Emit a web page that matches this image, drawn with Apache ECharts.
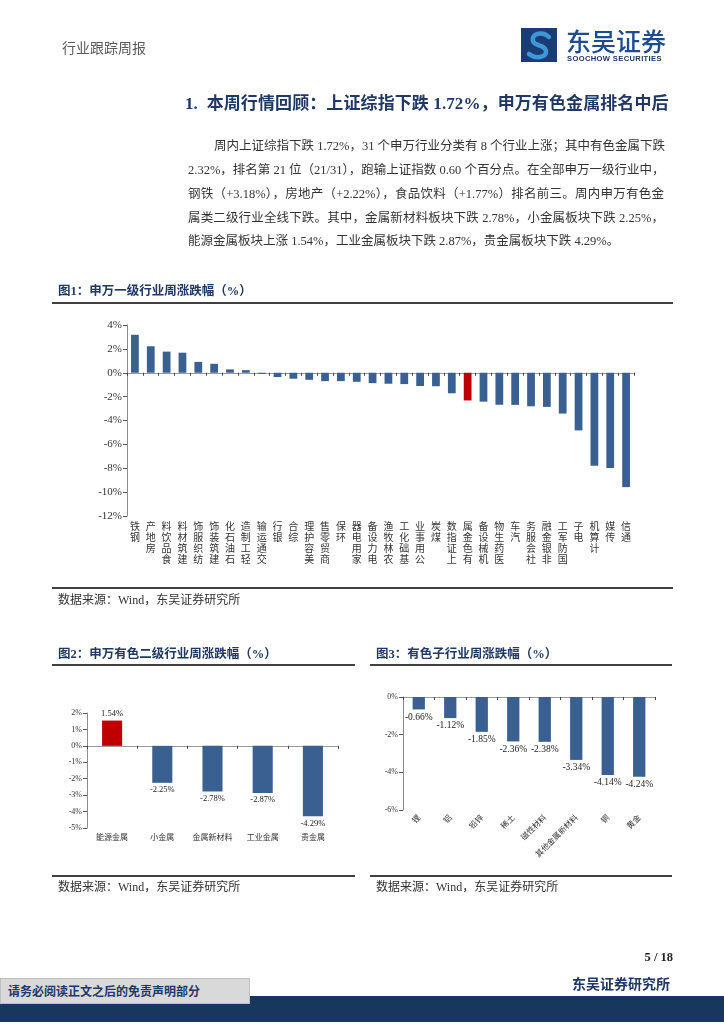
<!DOCTYPE html>
<html><head><meta charset="utf-8">
<script src="https://cdn.jsdelivr.net/npm/echarts@6/dist/echarts.min.js"></script>
<style>
body{margin:0;width:724px;height:1024px;position:relative;background:#fff;overflow:hidden;font-family:'Liberation Serif','Noto Sans CJK SC',serif;color:#333}
.t{position:absolute;white-space:nowrap;}
.hr{position:absolute;height:0;border-top:2px solid #404040;}
.p{position:absolute;font-size:12.5px;line-height:18px;height:18px;white-space:nowrap;overflow:visible}
.j{text-align:justify;text-align-last:justify;}
.ft{font-weight:bold;font-size:12.5px;color:#1F3864;line-height:16px}
.src{font-size:12px;line-height:16px;color:#333}
#chart{position:absolute;left:0;top:0;width:724px;height:1024px}
</style></head>
<body>
<div id="chart"></div>

<div class="t" style="left:62px;top:38px;font-size:14px;line-height:18px;color:#595959;font-family:'Noto Sans CJK SC'">行业跟踪周报</div>
<svg style="position:absolute;left:521px;top:28px" width="36" height="34" viewBox="0 0 36 34">
  <rect x="0" y="0" width="36" height="34" fill="#1B3C73"/>
  <path d="M28 9 C22 3,10 5,12 13 C14 19,24 16,25 23 C26 30,14 31,8 26" fill="none" stroke="#3E97D6" stroke-width="4.5" stroke-linecap="round"/>
</svg>
<div class="t" style="left:566px;top:25px;font-size:25px;line-height:30px;color:#1E4C8E;font-family:'Noto Sans CJK SC';font-weight:500">东吴证券</div>
<div class="t" style="left:567px;top:54px;font-size:7.6px;line-height:9px;color:#1F3864;font-family:'Liberation Sans';font-weight:bold;letter-spacing:0.35px">SOOCHOW SECURITIES</div>

<div class="t" style="left:185px;top:94px;font-size:17px;line-height:20px;font-weight:bold;color:#1F3864;letter-spacing:0.1px">1.&nbsp;&nbsp;本周行情回顾：上证综指下跌 1.72%，申万有色金属排名中后</div>

<div class="p j" style="left:214px;top:137px;width:450px">周内上证综指下跌 1.72%，31 个申万行业分类有 8 个行业上涨；其中有色金属下跌</div>
<div class="p j" style="left:188px;top:161px;width:476px">2.32%，排名第 21 位（21/31），跑输上证指数 0.60 个百分点。在全部申万一级行业中，</div>
<div class="p j" style="left:188px;top:185px;width:476px">钢铁（+3.18%），房地产（+2.22%），食品饮料（+1.77%）排名前三。周内申万有色金</div>
<div class="p j" style="left:188px;top:209px;width:476px">属类二级行业全线下跌。其中，金属新材料板块下跌 2.78%，小金属板块下跌 2.25%，</div>
<div class="p" style="left:188px;top:232px;">能源金属板块上涨 1.54%，工业金属板块下跌 2.87%，贵金属板块下跌 4.29%。</div>

<div class="t ft" style="left:58px;top:283px">图1：申万一级行业周涨跌幅（%）</div>
<div class="hr" style="left:52px;top:302px;width:621px"></div>
<div class="hr" style="left:52px;top:587px;width:621px"></div>
<div class="t src" style="left:58px;top:592px">数据来源：Wind，东吴证券研究所</div>

<div class="t ft" style="left:58px;top:646px">图2：申万有色二级行业周涨跌幅（%）</div>
<div class="hr" style="left:52px;top:664px;width:303px"></div>
<div class="hr" style="left:52px;top:875px;width:303px"></div>
<div class="t src" style="left:58px;top:879px">数据来源：Wind，东吴证券研究所</div>

<div class="t ft" style="left:376px;top:646px">图3：有色子行业周涨跌幅（%）</div>
<div class="hr" style="left:370px;top:664px;width:302px"></div>
<div class="hr" style="left:370px;top:875px;width:302px"></div>
<div class="t src" style="left:376px;top:879px">数据来源：Wind，东吴证券研究所</div>

<div class="t" style="right:51px;top:949px;font-size:12.5px;line-height:16px;font-weight:bold;color:#222">5 / 18</div>
<div class="t" style="right:54px;top:974px;font-size:14px;line-height:18px;font-weight:bold;color:#1F3864;font-family:'Noto Sans CJK SC'">东吴证券研究所</div>
<div style="position:absolute;left:0;top:996px;width:724px;height:26px;background:#17375E"></div>
<div style="position:absolute;left:0;top:978px;width:250px;height:26px;background:#D9D9D9;border:1px solid #bfbfbf;box-sizing:border-box"></div>
<div class="t" style="left:8px;top:982px;font-size:12px;line-height:18px;font-weight:bold;color:#1F3864;font-family:'Noto Sans CJK SC'">请务必阅读正文之后的免责声明部分</div>

<script>
// ---- data ----
const cat1 = ['钢铁','房地产','食品饮料','建筑材料','纺织服饰','建筑装饰','石油石化','轻工制造','交通运输','银行','综合','美容护理','商贸零售','环保','家用电器','电力设备','农林牧渔','基础化工','公用事业','煤炭','上证指数','有色金属','机械设备','医药生物','汽车','社会服务','非银金融','国防军工','电子','计算机','传媒','通信'];
const val1 = [3.18,2.22,1.77,1.68,0.91,0.75,0.28,0.22,-0.10,-0.36,-0.50,-0.59,-0.70,-0.70,-0.76,-0.87,-0.92,-0.95,-1.11,-1.13,-1.72,-2.32,-2.42,-2.68,-2.69,-2.81,-2.86,-3.42,-4.83,-7.80,-7.97,-9.58];
const ticks1 = [-12,-10,-8,-6,-4,-2,0,2,4];

const cat2 = ['能源金属','小金属','金属新材料','工业金属','贵金属'];
const val2 = [1.54,-2.25,-2.78,-2.87,-4.29];
const ticks2 = [-5,-4,-3,-2,-1,0,1,2];

const cat3 = ['锂','铝','铅锌','稀土','磁性材料','其他金属新材料','铜','黄金'];
const val3 = [-0.66,-1.12,-1.85,-2.36,-2.38,-3.34,-4.14,-4.24];
const ticks3 = [-6,-4,-2,0];

const BLUE = '#3A6092', RED = '#C00000';
const NUM = "'Liberation Serif','Noto Sans CJK SC',serif";
const CJK = "'Noto Sans CJK SC',sans-serif";

function yAx(grid, ticks, step, fs){
  return {type:'value', gridIndex:grid, min:ticks[0], max:ticks[ticks.length-1], interval:step,
    axisLine:{show:true, lineStyle:{color:'#8c8c8c', width:1}},
    axisTick:{show:true, length:4, lineStyle:{color:'#555'}},
    splitLine:{show:false},
    axisLabel:{formatter:v=>v+'%', fontFamily:NUM, fontSize:fs, color:'#333', margin:5}};
}
function xAxes(grid, cats, labelOpt){
  return [
    {type:'category', gridIndex:grid, data:cats, position:'bottom',
      axisLine:{onZero:true, lineStyle:{color:'#9a9a9a', width:1}},
      axisTick:{show:true, interval:0, length:3, lineStyle:{color:'#444'}},
      axisLabel:{show:false}},
    {type:'category', gridIndex:grid, data:cats, position:'bottom',
      axisLine:{show:false, onZero:false}, axisTick:{show:false},
      axisLabel:Object.assign({interval:0, color:'#333', fontFamily:CJK}, labelOpt)}
  ];
}
const lbl = (v)=>({show:true, position: v>=0?'top':'bottom', distance:3,
  formatter:p=>p.value.toFixed(2)+'%', fontFamily:NUM, color:'#222'});

const option = {
  animation:false,
  grid:[
    {left:127, top:325, width:507, height:191},
    {left:87, top:713, width:251, height:115},
    {left:403, top:697, width:252, height:113}
  ],
  xAxis:[].concat(
    xAxes(0, cat1, {fontSize:10, lineHeight:11, verticalAlign:'top', margin:5,
      formatter:s=>s.split('').reverse().join('\n')}),
    xAxes(1, cat2, {fontSize:8, margin:5}),
    xAxes(2, cat3, {fontSize:8, rotate:45, margin:6})
  ),
  yAxis:[yAx(0,ticks1,2,11), yAx(1,ticks2,1,8), yAx(2,ticks3,2,8)],
  series:[
    {type:'bar', xAxisIndex:0, yAxisIndex:0, barWidth:'49%',
      data:val1.map((v,i)=>({value:v, itemStyle:{color:cat1[i]==='有色金属'?RED:BLUE}}))},
    {type:'bar', xAxisIndex:2, yAxisIndex:1, barWidth:'40%',
      data:val2.map((v,i)=>({value:v, itemStyle:{color:v>=0?RED:BLUE}, label:Object.assign(lbl(v),{fontSize:8.5})}))},
    {type:'bar', xAxisIndex:4, yAxisIndex:2, barWidth:'39%',
      data:val3.map(v=>({value:v, itemStyle:{color:BLUE}, label:Object.assign(lbl(v),{fontSize:9.5})}))}
  ]
};
const chart = echarts.init(document.getElementById('chart'), null, {renderer:'canvas'});
chart.setOption(option);
</script>
</body></html>
